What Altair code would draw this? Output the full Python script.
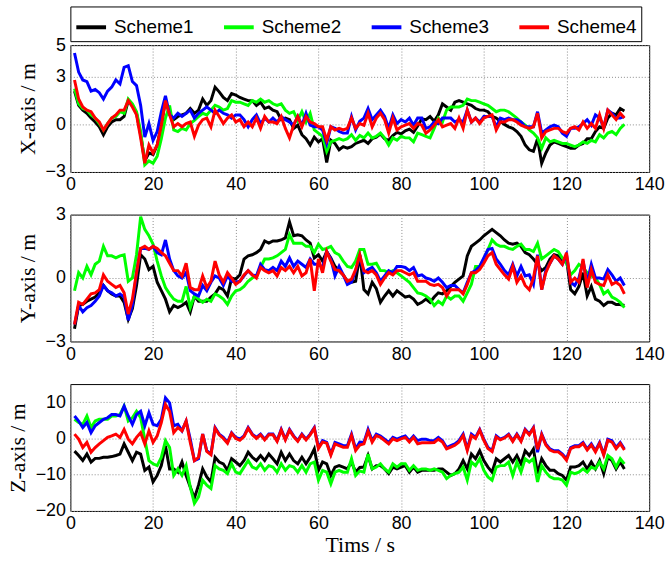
import altair as alt
import pandas as pd

SCHEMES = ["Scheme1", "Scheme2", "Scheme3", "Scheme4"]
COLORS = ["#000000", "#00ff00", "#0000ff", "#ff0000"]
X_TICKS = [0, 20, 40, 60, 80, 100, 120, 140]

# ---------------- X-axis panel ----------------
X_BLACK = [2.1, 1.2, 0.9, 0.7, 0.4, 0.15, -0.15, -0.65, -0.15, 0.15,
           0.3, 0.3, 0.5, 1.5, 1.2, 0.7, -0.65, -2.3, -1.8, -1.9,
           -1.3, -0.05, 1.5, 0.7, 0.3, 0.5, 0.6, 0.7, 1.0, 0.7,
           0.9, 1.6, 1.2, 1.5, 2.35, 2.05, 1.7, 1.5, 1.95, 1.85,
           1.7, 1.6, 1.5, 1.5, 1.2, 1.4, 1.0, 1.1, 0.9, 0.8,
           0.3, 0.4, 0.3, -0.25, -0.05, -0.65, -0.9, -1.3, -0.8, -1.1,
           -0.9, -2.4, -1.0, -1.2, -1.6, -1.4, -1.5, -1.4, -1.2, -1.1,
           -1.0, -1.2, -0.9, -0.8, -0.6, -0.9, -1.0, -0.7, -0.5, -0.6,
           -0.4, -0.3, -0.5, -0.1, 0.35, 0.3, 0.5, 0.2, 0.6, 1.3,
           1.1, 0.9, 1.4, 1.5, 1.4, 1.3, 1.2, 1.0, 0.9, 0.9,
           0.8, 0.5, 0.4, 0.2, 0.0, -0.15, -0.25, -0.45, -0.75, -1.3,
           -1.6, -1.7, -0.9, -2.45, -1.8, -1.3, -1.1, -1.2, -1.3, -1.4,
           -1.5, -1.5, -1.3, -1.2, -0.9, -0.9, -0.45, -0.15, -0.25, 0.4,
           0.7, 0.6, 1.0, 0.85]
X_GREEN = [2.25, 1.3, 1.0, 0.9, 0.6, 0.4, 0.05, -0.35, 0.05, 0.4,
           0.5, 0.8, 0.7, 1.6, 1.3, 0.8, -0.45, -2.55, -2.3, -2.45,
           -2.0, -0.9, 0.4, 1.2, -0.35, -0.45, -0.25, -0.35, 0.05, 0.25,
           0.5, 0.7, 0.6, 0.9, 1.2, 1.1, 0.9, 1.0, 1.5, 1.4,
           1.4, 1.3, 1.2, 1.5, 1.4, 1.6, 1.4, 1.5, 1.3, 1.2,
           1.3, 0.9, 0.7, 0.8, 0.25, 0.8, 0.15, 0.7, -0.35, -0.55,
           -0.75, -1.7, -1.1, -1.0, -0.9, -1.0, -0.9, -0.65, -1.0, -0.7,
           -0.85, -0.55, -0.85, -0.75, -0.55, -0.85, -1.3, -0.85, -1.0, -0.75,
           -0.85, -0.85, -1.1, -0.55, -0.65, -0.75, -0.85, -0.25, 0.4, 0.15,
           0.9, 1.1, 1.1, 1.1, 1.2, 1.6, 1.5, 1.5, 1.4, 1.3,
           1.2, 1.0, 0.8, 0.9, 0.9, 0.8, 0.6, 0.4, 0.15, -0.05,
           -0.35, -0.55, -0.85, -1.5, -0.85, -1.1, -1.0, -1.1, -1.2, -1.2,
           -1.3, -1.4, -1.3, -1.1, -1.2, -1.0, -1.1, -0.65, -0.85, -0.55,
           -0.45, -0.65, -0.25, 0.0]
X_BLUE = [4.5, 3.3, 2.8, 2.7, 2.1, 2.2, 2.0, 1.6, 2.1, 2.35,
          2.8, 2.55, 3.6, 3.7, 2.7, 2.45, 1.2, -0.8, 0.05, -1.0,
          -0.45, 0.8, 1.8, 0.6, 0.4, 0.7, 0.5, 0.7, 0.9, 0.4,
          0.7, 0.9, 1.1, 0.9, 0.7, 0.9, 0.7, 0.6, 0.4, 0.6,
          0.6, 0.3, -0.15, 0.3, 0.6, 0.05, 0.4, 0.15, 0.4, 0.15,
          0.5, 0.3, 0.15, -0.05, 0.5, -0.05, 0.7, -0.05, -0.15, -0.15,
          -0.35, -1.2, -0.15, -0.25, -0.45, -0.55, -0.55, 0.5, -0.35, 0.2,
          0.4, 1.0, 0.3, 0.6, 0.9, 0.5, -0.25, 0.6, 0.05, 0.3,
          0.15, 0.4, -0.05, 0.4, 0.4, -0.25, -0.15, 0.15, 0.05, 0.4,
          0.4, 0.4, 0.15, 0.3, 0.15, 0.9, 0.15, 0.4, 0.15, 0.5,
          0.5, 0.5, -0.15, 0.4, 0.3, 0.4, 0.3, 0.3, 0.15, -0.15,
          -0.15, -0.15, 0.8, -0.55, -0.35, -0.15, -0.05, -0.15, -0.55, -0.75,
          -0.25, -0.25, -0.15, 0.05, 0.3, -0.05, 0.6, 0.4, -0.15, 0.9,
          0.7, 0.4, 0.4, 0.5]
X_RED = [2.8, 1.6, 1.1, 0.9, 0.8, 0.4, 0.15, -0.35, 0.05, 0.4,
         0.6, 0.9, 0.9, 1.5, 1.1, 0.6, -0.85, -2.45, -1.3, -1.8,
         -1.3, -0.05, 1.5, 0.6, -0.15, 0.05, -0.15, 0.05, 0.15, -0.75,
         -0.05, 0.3, 0.4, -0.15, 0.9, 0.5, 0.05, 0.4, 0.6, 0.15,
         0.3, -0.15, 0.15, -0.15, 0.4, -0.25, 0.5, 0.15, 0.15, 0.05,
         0.5, -0.25, -0.85, -0.05, 0.5, -0.15, 0.5, 0.15, 0.05, -0.15,
         -0.15, -1.0, -0.15, -0.35, -0.25, -0.35, -0.25, 0.4, -0.25, 0.05,
         -0.05, 0.7, -0.15, 0.4, 0.7, 0.3, -0.55, 0.4, -0.35, -0.15,
         -0.05, 0.05, -0.25, 0.05, -0.05, -0.55, -0.35, -0.05, 0.3, -0.15,
         -0.05, 0.05, -0.25, 0.4, -0.25, 0.9, 0.15, 0.4, 0.05, 0.4,
         0.5, 0.6, -0.35, 0.15, 0.15, 0.3, 0.3, 0.15, -0.05, -0.15,
         -0.25, -0.15, 0.7, -0.85, -0.45, -0.35, -0.25, -0.25, -0.45, -0.55,
         -0.25, -0.15, -0.35, 0.15, -0.25, 0.05, -0.25, 0.6, -0.25, 0.9,
         0.6, 0.3, 0.7, 0.4]

# ---------------- Y-axis panel ----------------
Y_BLACK = [-2.4, -1.3, -1.25, -1.1, -1.0, -0.9, -0.7, -0.35, -0.6, -0.75,
           -0.85, -0.85, -1.15, -1.95, -1.45, -0.35, 1.1, 0.9, 0.4, 0.55,
           -0.2, -0.6, -1.0, -1.6, -1.3, -1.4, -1.3, -1.15, -1.6, -0.85,
           -1.1, -1.1, -1.1, -0.9, -0.75, -0.45, -0.55, -0.85, 0.0, -0.05,
           0.15, 0.9, 1.05, 1.1, 1.2, 1.35, 1.75, 1.65, 1.75, 1.75,
           1.8, 1.9, 2.65, 2.0, 2.05, 2.0, 1.8, 1.65, 0.95, 1.1,
           0.8, 1.25, 0.95, 0.55, 0.35, 0.15, -0.15, -0.2, -0.15, 1.1,
           -0.55, -0.75, -0.2, -0.5, -1.15, -0.85, -0.6, -0.85, -0.6, -0.75,
           -0.9, -0.85, -1.0, -1.25, -1.15, -1.0, -1.15, -0.9, -0.7, -0.75,
           -0.6, -0.4, -0.2, -0.05, 0.1, 1.05, 1.5, 1.65, 1.8, 2.0,
           2.15, 2.3, 2.15, 2.0, 1.8, 1.65, 1.6, 1.65, 1.5, 1.2,
           1.1, 0.9, 0.65, 0.35, 0.5, 0.9, 1.1, 1.05, 0.8, 0.9,
           -0.55, -0.75, -0.4, 0.25, -0.85, -0.4, -1.0, -1.1, -1.3, -1.15,
           -1.15, -1.25, -1.25, -1.3]
Y_GREEN = [-0.6, 0.25, 0.0, 0.55, 0.15, 0.65, 0.8, 1.5, 1.05, 1.05,
           0.95, 1.05, 1.1, -0.15, 0.0, 1.1, 2.9, 2.3, 2.0, 1.6,
           0.8, 0.1, -0.45, -0.75, -1.0, -1.1, -1.1, -0.4, -1.4, -0.85,
           -1.0, -1.15, -1.0, -1.1, -0.75, -0.85, -1.0, -1.25, -0.85, -0.6,
           -0.55, -0.4, -0.15, 0.0, 0.1, 0.5, 0.9, 0.9, 0.95, 1.05,
           1.2, 1.35, 2.05, 1.65, 1.65, 1.65, 1.5, 1.5, 1.2, 1.6,
           1.35, 1.4, 1.5, 1.2, 1.1, 0.8, 0.55, 0.5, 0.8, 1.35,
           1.35, 0.65, 0.65, 0.7, 0.35, 0.35, 0.25, 0.35, 0.25, 0.1,
           -0.05, -0.2, -0.45, -0.7, -0.75, -0.85, -1.0, -1.3, -1.1, -1.25,
           -0.85, -1.0, -0.85, -0.85, -1.1, -0.7, -0.3, 0.55, 0.55, 0.9,
           1.35, 1.8, 1.6, 1.5, 1.5, 1.4, 1.35, 1.5, 1.6, 1.35,
           1.35, 1.25, 1.65, 0.9, 1.05, 1.2, 1.35, 1.25, 0.95, 0.7,
           0.15, 0.35, 0.65, 0.5, 0.25, 0.1, 0.0, -0.3, -0.75, -0.6,
           -0.9, -1.0, -1.15, -1.4]
Y_BLUE = [-2.2, -1.3, -1.6, -1.4, -1.3, -1.1, -0.85, -0.35, -0.6, -0.7,
          -0.85, -0.75, -0.9, -2.0, -1.3, 0.25, 1.4, 1.4, 1.35, 1.5,
          1.2, 1.1, 1.8, 0.9, 0.35, 0.1, 0.0, 0.25, -0.6, -0.75,
          -0.85, -0.35, -0.6, -0.2, 0.1, 0.0, -0.35, 0.1, -0.15, -0.2,
          -0.15, 0.1, 0.35, 0.15, 0.1, 0.65, 0.4, 0.35, 0.5, 0.35,
          0.8, 0.55, 0.95, 0.55, 0.8, 0.65, 0.5, 0.9, 0.65, 0.65,
          0.5, 1.25, 0.9, 0.1, 0.55, 0.15, -0.3, -0.2, 0.35, 1.05,
          0.25, 0.4, 0.5, 0.25, -0.15, 0.1, 0.35, 0.25, 0.55, 0.55,
          0.5, 0.35, 0.5, 0.1, 0.15, 0.0, -0.05, -0.15, 0.0, -0.2,
          -0.45, -0.35, -0.35, -0.55, -0.7, -0.2, 0.25, 0.35, 0.55, 0.95,
          1.35, 1.4, 0.9, 0.65, 0.35, 0.15, 0.65, 0.1, 0.55, 0.1,
          0.15, -0.3, 1.1, -0.55, 0.35, 0.7, 1.05, 0.9, 0.65, 1.1,
          -0.2, -0.35, 0.0, 0.8, -0.2, 0.65, 0.0, 0.0, -0.05, 0.4,
          0.15, -0.15, 0.0, -0.35]
Y_RED = [-2.2, -1.15, -1.25, -1.0, -0.75, -0.7, -0.55, 0.15, -0.15, -0.3,
         -0.45, -0.35, -0.7, -1.7, -1.0, 0.25, 1.4, 1.5, 1.35, 1.5,
         1.4, 1.2, 1.05, 0.7, 0.35, 0.35, 0.1, 0.7, -0.45, -0.55,
         -0.55, 0.1, -0.45, -0.15, 0.8, 0.15, -0.2, 0.25, 0.0, -0.3,
         -0.15, 0.15, 0.35, 0.15, 0.0, 0.5, 0.35, 0.25, 0.35, 0.1,
         0.5, 0.35, 0.55, 0.25, 0.55, 0.1, 0.25, 0.9, -0.6, 0.9,
         0.25, 1.25, 0.8, 0.4, 0.35, 0.15, -0.15, -0.05, 0.4, 1.1,
         0.35, 0.25, 0.35, 0.15, -0.3, 0.0, 0.25, 0.15, 0.35, 0.35,
         0.25, 0.15, 0.25, -0.15, -0.15, -0.15, -0.3, -0.35, -0.3, -0.45,
         -0.85, -0.55, -0.55, -0.55, -0.75, -0.3, 0.25, 0.25, 0.4, 0.7,
         1.05, 1.2, 0.65, 0.4, 0.15, -0.05, 0.55, -0.2, 0.1, -0.35,
         -0.55, 0.0, 1.05, -0.55, 0.25, 0.7, 1.05, 0.9, 0.65, 1.2,
         -0.2, 0.0, -0.2, 0.9, -0.45, 0.4, -0.2, -0.3, -0.35, 0.15,
         -0.3, -0.2, -0.35, -0.75]

# ---------------- Z-axis panel ----------------
Z_BLACK = [-3.5, -4.7, -6.1, -4.3, -6.5, -5.5, -5.5, -5.2, -5.2, -5.0,
           -4.7, -4.3, -1.5, -3.8, -6.1, -3.8, -4.3, -8.8, -7.9, -12.0,
           -10.2, -7.5, -2.0, -8.4, -8.4, -9.3, -6.5, -10.2, -13.4, -16.5,
           -12.9, -8.4, -10.6, -12.0, -5.2, -6.5, -7.0, -8.8, -5.6, -6.5,
           -7.5, -6.1, -3.8, -5.2, -6.1, -4.7, -6.1, -4.3, -5.6, -7.0,
           -3.8, -6.1, -4.3, -6.1, -7.0, -5.2, -7.0, -5.2, -2.9, -8.8,
           -6.5, -7.0, -10.2, -7.9, -7.5, -7.9, -8.4, -6.5, -9.3, -8.0,
           -7.9, -4.7, -8.4, -7.5, -7.5, -8.4, -9.7, -7.9, -8.4, -7.9,
           -7.5, -9.3, -7.9, -9.3, -8.8, -8.8, -8.8, -8.8, -8.4, -8.4,
           -9.3, -10.2, -9.7, -8.4, -6.1, -8.4, -4.3, -5.6, -3.4, -6.1,
           -7.9, -9.3, -5.6, -6.5, -5.6, -4.7, -6.5, -4.7, -7.0, -3.4,
           -4.7, -2.9, -9.7, -5.6, -7.5, -8.8, -8.8, -9.7, -10.2, -11.5,
           -7.9, -7.9, -7.5, -6.5, -8.4, -6.5, -8.4, -6.1, -9.7, -5.2,
           -6.1, -8.4, -6.5, -8.4]
Z_GREEN = [5.3, 4.4, 3.9, 6.2, 3.0, 4.8, 5.3, 5.3, 5.3, 6.2,
           6.2, 6.6, 8.9, 4.8, 5.7, 7.5, 5.7, -0.2, -6.1, -7.0,
           -7.5, -5.2, -0.6, -2.5, -10.2, -8.4, -10.2, -7.5, -13.4, -17.9,
           -16.1, -11.5, -12.9, -13.8, -7.5, -8.4, -8.8, -9.7, -7.0, -9.3,
           -9.7, -7.9, -6.1, -7.9, -8.4, -7.0, -8.8, -7.5, -7.9, -9.3,
           -7.0, -8.8, -7.5, -7.9, -9.3, -7.5, -9.3, -7.0, -6.5, -11.5,
           -8.8, -9.3, -12.5, -9.3, -8.8, -9.3, -9.3, -5.6, -10.2, -9.0,
           -9.3, -4.3, -8.4, -7.9, -7.0, -8.4, -9.3, -7.0, -7.9, -7.0,
           -7.0, -8.8, -7.5, -8.8, -8.4, -8.4, -8.8, -8.4, -8.8, -9.3,
           -11.1, -10.2, -9.7, -9.3, -7.9, -11.5, -6.5, -7.5, -5.6, -8.8,
           -10.6, -11.5, -7.9, -7.5, -7.5, -6.5, -10.2, -6.5, -9.3, -5.6,
           -6.5, -5.6, -12.0, -7.5, -9.3, -10.6, -11.1, -11.1, -11.5, -12.9,
           -9.3, -9.7, -9.3, -8.4, -9.3, -7.9, -8.4, -6.5, -8.4, -4.7,
           -5.6, -7.9, -5.6, -7.0]
Z_BLUE = [6.2, 4.8, 3.0, 4.4, 1.6, 3.5, 4.4, 5.3, 5.7, 6.6,
          6.6, 6.2, 8.9, 6.2, 3.9, 6.6, 7.5, 3.5, 7.1, 3.9,
          3.5, 5.3, 11.2, 9.8, 3.5, 3.9, 2.1, 4.8, -0.2, -6.1,
          -5.6, 1.2, -3.4, -4.3, 3.0, 1.2, 0.3, -1.1, 1.6, 0.3,
          -0.2, 0.7, 3.0, 1.2, 0.3, 1.2, -0.2, 1.2, 1.2, -0.6,
          2.5, -0.2, 2.5, 0.7, -0.6, 1.2, -0.2, 1.2, 3.0, -2.5,
          -0.6, -1.1, -4.3, -1.1, -1.5, -2.0, -2.0, 1.2, -2.9, -1.0,
          -1.1, 2.5, -0.6, 1.2, 0.7, -0.2, -1.1, 0.3, -0.2, 0.3,
          0.7, -0.6, 0.7, -0.6, -0.2, -0.2, -0.6, -0.6, 0.3, -0.6,
          -2.5, -2.0, -1.5, -0.6, 1.2, -2.9, 1.2, 0.3, 2.5, -0.2,
          -2.5, -3.4, 0.7, -0.2, 0.3, 1.2, -0.6, 1.2, -0.6, 2.5,
          1.2, 3.0, -3.8, 1.2, -1.5, -2.9, -3.4, -3.4, -4.3, -5.6,
          -2.5, -2.0, -2.0, -1.1, -2.9, -1.5, -3.4, -1.1, -4.3, -0.2,
          -0.6, -2.5, -1.1, -2.9]
Z_RED = [1.2, -0.2, -2.5, -1.1, -3.8, -2.5, -1.5, -0.6, 0.3, 0.7,
         1.2, 0.3, 2.5, -0.2, -1.5, 0.3, 1.6, -1.5, 2.1, -1.1,
         0.7, 4.4, 9.4, 7.5, 1.6, 3.0, 2.1, 4.8, -1.1, -6.1,
         -5.2, 1.2, -3.6, -4.5, 2.8, 1.0, 0.0, -1.3, 1.4, 0.0,
         -0.5, 0.5, 2.8, 1.0, 0.0, 1.0, -0.4, 1.0, 1.0, -0.8,
         2.3, -0.4, 2.3, 0.5, -0.8, 1.0, -0.4, 1.0, 2.8, -2.8,
         -1.0, -1.3, -4.6, -1.5, -2.0, -2.4, -2.4, 0.8, -3.3, -1.8,
         -1.5, 2.0, -1.0, 0.8, 0.3, -0.6, -1.5, -0.1, -0.6, -0.1,
         0.3, -1.0, 0.3, -1.5, -1.2, -1.2, -1.2, -1.1, -0.2, -1.0,
         -2.9, -2.4, -1.9, -1.0, 0.8, -3.3, 0.8, 0.0, 2.3, -0.5,
         -2.8, -3.6, 0.4, -0.4, 0.1, 1.0, -0.8, 1.0, -0.8, 2.3,
         1.0, 2.8, -3.0, 1.0, -1.8, -3.2, -3.7, -3.7, -4.6, -6.0,
         -2.8, -2.3, -2.3, -1.4, -3.2, -1.8, -3.7, -1.4, -4.6, -0.5,
         -1.0, -2.8, -1.4, -3.2]


def frame(series):
    rows = []
    for name, vals in zip(SCHEMES, series):
        for i, v in enumerate(vals):
            rows.append({"t": i + 1, "v": v, "scheme": name})
    return pd.DataFrame(rows)


LEGEND = alt.Legend(
    orient="none", legendX=0, legendY=-39, direction="horizontal", title=None,
    symbolType="stroke", symbolStrokeWidth=4, symbolSize=900,
    labelFont="Liberation Sans", labelFontSize=19, labelColor="black",
    labelLimit=0, strokeColor="black", padding=4, columnPadding=22,
    labelOffset=6, fillColor="white",
)


def panel(series, domain, ticks, ytitle, xtitle):
    x_axis = alt.Axis(
        values=X_TICKS, grid=True, gridColor="#8c8c8c", gridDash=[1, 2],
        ticks=False, domain=False, labelFlush=False, labelOverlap=False,
        labelFont="Liberation Sans", labelFontSize=18, labelColor="black",
        labelPadding=4, title=xtitle, titleFont="Liberation Serif",
        titleFontSize=22, titleFontWeight="normal", titleColor="black",
        titlePadding=2,
    )
    y_axis = alt.Axis(
        values=ticks, grid=True, gridColor="#8c8c8c", gridDash=[1, 2],
        ticks=False, domain=False, labelFlush=False, labelOverlap=False,
        labelFont="Liberation Sans", labelFontSize=18, labelColor="black",
        labelPadding=5, title=ytitle, titleFont="Liberation Serif",
        titleFontSize=22, titleFontWeight="normal", titleColor="black",
        titlePadding=6,
    )
    return alt.Chart(frame(series)).mark_line(strokeWidth=3, clip=True).encode(
        x=alt.X("t:Q", scale=alt.Scale(domain=[0, 140], nice=False), axis=x_axis),
        y=alt.Y("v:Q", scale=alt.Scale(domain=domain, nice=False, zero=False), axis=y_axis),
        color=alt.Color("scheme:N", scale=alt.Scale(domain=SCHEMES, range=COLORS), legend=LEGEND),
    ).properties(width=584, height=128)


p1 = panel([X_BLACK, X_GREEN, X_BLUE, X_RED], [-3, 5], [-3, 0, 3, 5], "X-axis / m", None)
p2 = panel([Y_BLACK, Y_GREEN, Y_BLUE, Y_RED], [-3, 3], [-3, 0, 3], "Y-axis / m", None)
p3 = panel([Z_BLACK, Z_GREEN, Z_BLUE, Z_RED], [-20, 15], [-20, -10, 0, 10], "Z-axis / m", "Tims / s")

chart = alt.vconcat(p1, p2, p3, spacing=43).properties(
    bounds="flush",
    padding={"left": 5, "top": 3, "right": 5, "bottom": 4},
    background="white",
).configure_view(stroke="black", strokeWidth=1).configure_legend(
    symbolStrokeColor="black"
)

chart.save("out.html", embed_options={"renderer": "svg", "actions": False})
